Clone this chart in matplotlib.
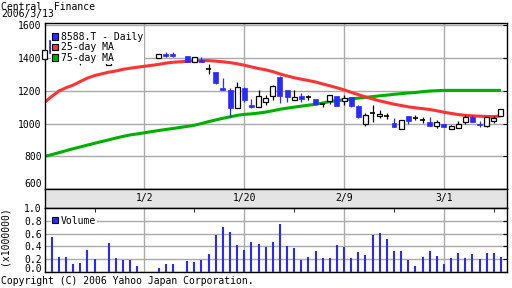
import numpy as np
import matplotlib
matplotlib.use('Agg')
import matplotlib.pyplot as plt
from matplotlib.patches import Patch

# trading days shown on the chart
dates = ['2005-12-13', '2005-12-14', '2005-12-15', '2005-12-16', '2005-12-19',
         '2005-12-20', '2005-12-21', '2005-12-22', '2005-12-26', '2005-12-27',
         '2005-12-28', '2005-12-29', '2005-12-30',
         '2006-01-04', '2006-01-05', '2006-01-06', '2006-01-10', '2006-01-11',
         '2006-01-12', '2006-01-13', '2006-01-16', '2006-01-17', '2006-01-18',
         '2006-01-19', '2006-01-20', '2006-01-23', '2006-01-24', '2006-01-25',
         '2006-01-26', '2006-01-27', '2006-01-30', '2006-01-31',
         '2006-02-01', '2006-02-02', '2006-02-03', '2006-02-06', '2006-02-07',
         '2006-02-08', '2006-02-09', '2006-02-10', '2006-02-13', '2006-02-14',
         '2006-02-15', '2006-02-16', '2006-02-17', '2006-02-20', '2006-02-21',
         '2006-02-22', '2006-02-23', '2006-02-24', '2006-02-27', '2006-02-28',
         '2006-03-01', '2006-03-02', '2006-03-03', '2006-03-06', '2006-03-07',
         '2006-03-08', '2006-03-09', '2006-03-10', '2006-03-13']

opens = [1390, 1510, 1440, 1450, 1440, 1372, 1380, 1410, 1357, 1426, 1426, 1436, 1416,
         1400, 1424, 1424, 1412, 1373, 1387, 1333, 1312, 1218, 1204, 1095, 1218,
         1112, 1102, 1129, 1169, 1282, 1204, 1145,
         1167, 1159, 1149, 1122, 1138, 1167, 1137, 1161, 1106, 996, 1065, 1045,
         1045, 1004, 969, 1045, 1035, 1020, 1008, 986,
         1000, 969, 976, 1010, 1043, 1000, 986, 1016, 1047]
highs = [1450, 1515, 1460, 1470, 1455, 1390, 1420, 1440, 1410, 1447, 1440, 1447, 1426,
         1424, 1434, 1434, 1412, 1404, 1404, 1360, 1312, 1280, 1214, 1255, 1220,
         1150, 1204, 1173, 1234, 1290, 1204, 1204,
         1184, 1173, 1149, 1124, 1173, 1167, 1173, 1161, 1110, 1065, 1112, 1080,
         1067, 1031, 1024, 1045, 1051, 1037, 1041, 1020,
         1000, 990, 1014, 1055, 1051, 1016, 1043, 1047, 1088]
lows = [1385, 1425, 1420, 1430, 1415, 1357, 1375, 1400, 1357, 1405, 1410, 1416, 1388,
        1400, 1404, 1404, 1372, 1373, 1373, 1300, 1240, 1204, 1040, 1095, 1132,
        1095, 1102, 1112, 1143, 1126, 1132, 1145,
        1129, 1143, 1116, 1102, 1122, 1104, 1116, 1102, 1035, 984, 1010, 1035,
        1026, 979, 969, 1000, 1020, 1006, 986, 973,
        979, 969, 976, 996, 1010, 979, 979, 1006, 1047]
closes = [1445, 1428, 1450, 1440, 1425, 1372, 1410, 1430, 1400, 1426, 1426, 1418, 1400,
          1424, 1414, 1414, 1377, 1404, 1373, 1333, 1248, 1204, 1095, 1220, 1143,
          1098, 1167, 1153, 1228, 1169, 1159, 1159,
          1149, 1159, 1118, 1122, 1173, 1108, 1155, 1108, 1041, 1051, 1065, 1061,
          1045, 979, 1024, 1014, 1035, 1020, 986, 1008,
          979, 986, 1000, 1039, 1010, 990, 1043, 1035, 1088]

ma25 = [1130, 1165, 1198, 1218, 1234, 1256, 1277, 1292, 1313, 1320, 1330, 1337, 1343,
        1360, 1368, 1373, 1379, 1383, 1383, 1383, 1380, 1376, 1371, 1364, 1355,
        1345, 1335, 1327, 1316, 1302, 1290, 1279,
        1270, 1262, 1253, 1241, 1230, 1218, 1205, 1190, 1176, 1162, 1150, 1138,
        1128, 1118, 1110, 1102, 1096, 1091, 1086, 1078,
        1069, 1062, 1055, 1050, 1047, 1045, 1043, 1042, 1047]
ma75 = [800, 811, 823, 835, 847, 858, 869, 880, 901, 912, 922, 931, 937,
        958, 964, 970, 983, 990, 1000, 1012, 1022, 1032, 1041, 1050, 1056,
        1059, 1064, 1070, 1078, 1087, 1094, 1100,
        1106, 1112, 1117, 1125, 1134, 1139, 1145, 1150, 1155, 1160, 1164, 1169,
        1173, 1178, 1182, 1186, 1189, 1194, 1198, 1200,
        1202, 1202, 1202, 1202, 1202, 1202, 1202, 1202, 1202]

# volume in units of 1,000,000 shares
volume = [np.nan, 0.54, 0.24, 0.23, 0.13, 0.145, 0.35, 0.21, 0.455, 0.22, 0.19, 0.19, 0.09,
          0.07, 0.13, 0.13, 0.175, 0.16, 0.19, 0.285, 0.58, 0.70, 0.63, 0.425, 0.35,
          0.47, 0.44, 0.39, 0.47, 0.75, 0.41, 0.38,
          0.19, 0.24, 0.33, 0.22, 0.22, 0.425, 0.39, 0.22, 0.315, 0.27, 0.58, 0.61,
          0.52, 0.33, 0.33, 0.19, 0.10, 0.24, 0.33, 0.25,
          0.13, 0.22, 0.30, 0.22, 0.285, 0.21, 0.30, 0.30, 0.24]

grid_dates = ['2006-01-02', '2006-01-20', '2006-02-09', '2006-03-01']
grid_labels = ['1/2', '1/20', '2/9', '3/1']
mid_dates = ['2005-12-22', '2006-01-11', '2006-01-31', '2006-02-20', '2006-03-10']

price_ticks = [600, 800, 1000, 1200, 1400, 1600]
vol_ticks = [0.0, 0.2, 0.4, 0.6, 0.8, 1.0]

BLUE = '#2a2aff'
RED = '#ff3333'
GREEN = '#00b000'
GRID = '#aaaaaa'
MONO = 'DejaVu Sans Mono'
FS = 7

# x position = weekday slot counted from 2006/1/2
x = np.busday_count(np.datetime64('2006-01-02'), np.array(dates, dtype='datetime64[D]'))
gx = np.busday_count(np.datetime64('2006-01-02'), np.array(grid_dates, dtype='datetime64[D]'))
mx = np.busday_count(np.datetime64('2006-01-02'), np.array(mid_dates, dtype='datetime64[D]'))
o = np.array(opens, float)
h = np.array(highs, float)
l = np.array(lows, float)
c = np.array(closes, float)

W, H = 512, 288
fig = plt.figure(figsize=(W / 100, H / 100), dpi=100)
ax = fig.add_axes([45 / W, 1 - 189.3 / H, 462 / W, 166.3 / H])
band = fig.add_axes([45 / W, 1 - 207.7 / H, 462 / W, 18.4 / H])
axv = fig.add_axes([45 / W, 1 - 272.3 / H, 462 / W, 64.6 / H])

xlim = (-13.95, 50.85)

# ---- price panel
ax.set_xlim(*xlim)
ax.set_ylim(600, 1612)
ax.set_xticks(gx)
ax.set_xticklabels([])
ax.set_yticks(price_ticks)
ax.set_yticklabels([str(t) for t in price_ticks], family=MONO, fontsize=FS)
ax.get_yticklabels()[0].set_va('bottom')
ax.tick_params(axis='x', length=0)
ax.tick_params(axis='y', direction='in', length=3, left=False, right=True, pad=2.5)
ax.grid(True, color=GRID, lw=1.0)
ax.set_axisbelow(True)
for s in ax.spines.values():
    s.set_linewidth(1.0)

ax.plot(x, ma75, color=GREEN, lw=2.2, solid_capstyle='butt', zorder=2)
ax.plot(x, ma25, color=RED, lw=2.2, solid_capstyle='butt', zorder=2)

up = c > o
down = c < o
doji = c == o
wick_col = np.where(down, BLUE, 'black')
ax.vlines(x, l, h, colors=wick_col, lw=0.9, zorder=3, clip_on=False)
ax.bar(x[up], (c - o)[up], 0.7, bottom=o[up], facecolor='white', edgecolor='black',
       lw=0.9, zorder=4, clip_on=False)
ax.bar(x[down], (o - c)[down], 0.7, bottom=c[down], facecolor=BLUE, edgecolor=BLUE,
       lw=0.5, zorder=4, clip_on=False)
ax.hlines(o[doji], x[doji] - 0.35, x[doji] + 0.35, colors='black', lw=1.2, zorder=4)

handles = [Patch(facecolor=BLUE, edgecolor='black', lw=0.8, label='8588.T - Daily'),
           Patch(facecolor=RED, edgecolor='black', lw=0.8, label='25-day MA'),
           Patch(facecolor=GREEN, edgecolor='black', lw=0.8, label='75-day MA')]
leg = ax.legend(handles=handles, loc='upper left', bbox_to_anchor=(6 / 462, 1 - 8 / 166.3),
                borderaxespad=0, borderpad=0.1, frameon=True, fancybox=False,
                facecolor='white', edgecolor='none', framealpha=1,
                handlelength=0.6, handleheight=0.6, handletextpad=0.35,
                labelspacing=0.05, prop={'family': MONO, 'size': FS})
leg.set_zorder(5)

# ---- date band
band.set_xlim(*xlim)
band.set_ylim(0, 1)
band.set_facecolor('#e4e4e4')
band.set_xticks([])
band.set_yticks([])
for s in band.spines.values():
    s.set_linewidth(1.0)
for gxi, lab in zip(gx, grid_labels):
    band.text(gxi, 0.5, lab, ha='center', va='center', family=MONO, fontsize=FS)

# ---- volume panel
axv.set_xlim(*xlim)
axv.set_ylim(0, 1.0)
axv.set_xticks(gx)
axv.set_xticklabels([])
axv.set_xticks(mx, minor=True)
axv.set_yticks(vol_ticks)
vol_labels = ['%.1f' % t for t in vol_ticks]
axv.set_yticklabels([''] + vol_labels[1:], family=MONO, fontsize=FS)
# bottom label sits a little above its grid line, as in the original
axv.text(-3.3 / 462, vol_ticks[0] + 2.8 / 64.6, vol_labels[0], transform=axv.get_yaxis_transform(),
         ha='right', va='center', family=MONO, fontsize=FS)
axv.tick_params(axis='x', which='major', length=0)
axv.tick_params(axis='x', which='minor', direction='in', length=3, top=True, bottom=False)
axv.tick_params(axis='y', direction='in', length=3, left=False, right=True, pad=2.5)
axv.grid(True, which='major', color=GRID, lw=1.0)
axv.set_axisbelow(True)
for s in axv.spines.values():
    s.set_linewidth(1.0)
axv.vlines(x, 0, volume, colors=BLUE, lw=1.5, zorder=3)
vleg = axv.legend(handles=[Patch(facecolor=BLUE, edgecolor='black', lw=0.8, label='Volume')],
                  loc='upper left', bbox_to_anchor=(6 / 462, 1 - 7 / 64.6),
                  borderaxespad=0, borderpad=0.1, frameon=True, fancybox=False,
                  facecolor='white', edgecolor='none', framealpha=1,
                  handlelength=0.6, handleheight=0.6, handletextpad=0.35,
                  prop={'family': MONO, 'size': FS})

fig.text(5 / W, 1 - 236 / H, '(x1000000)', rotation=90, ha='center', va='center',
         family=MONO, fontsize=FS)

# ---- header / footer
fig.text(1 / W, 1 - 1.5 / H, 'Central  Finance\n2006/3/13', family=MONO, fontsize=FS,
         va='top', linespacing=0.72)
fig.text(1 / W, 1 - 284.5 / H, 'Copyright (C) 2006 Yahoo Japan Corporation.',
         family=MONO, fontsize=FS, va='baseline')

fig.savefig('out.png', dpi=100)
